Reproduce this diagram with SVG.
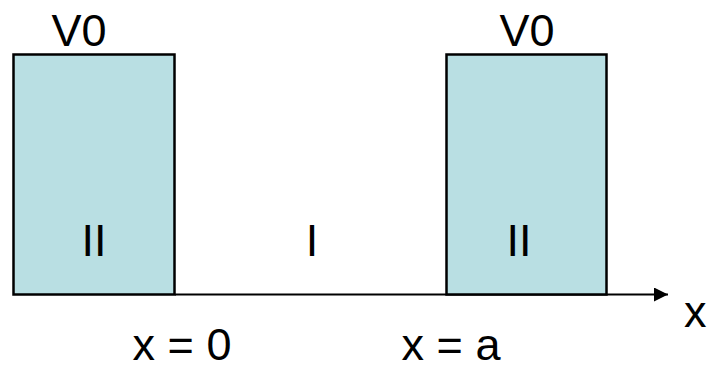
<svg xmlns="http://www.w3.org/2000/svg" width="709" height="370" viewBox="0 0 709 370">
<style>
text{font-family:"Liberation Sans",Arial,sans-serif;font-size:45px;fill:#000}
.bar{fill:#b9dfe3;stroke:#000;stroke-width:2.5}
</style>
<defs>
<marker id="ah" markerWidth="14" markerHeight="14" refX="14" refY="7" orient="auto" markerUnits="userSpaceOnUse"><path d="M0,0 L14,7 L0,14 z" fill="#000"/></marker>
</defs>
<g id="connectors">
<line x1="175" y1="294.5" x2="668" y2="294.5" stroke="#000" stroke-width="2" marker-end="url(#ah)"/>
</g>
<g id="left-barrier">
<rect class="bar" x="13.5" y="54.5" width="161" height="240"/>
<text x="79" y="46" text-anchor="middle">V0</text>
<text x="94" y="256" text-anchor="middle">II</text>
</g>
<g id="right-barrier">
<rect class="bar" x="446.5" y="54.5" width="160" height="240"/>
<text x="527" y="46" text-anchor="middle">V0</text>
<text x="519" y="256" text-anchor="middle">II</text>
</g>
<g id="region-I">
<text x="312" y="256" text-anchor="middle">I</text>
</g>
<g id="labels">
<text x="684" y="327">x</text>
<text x="182" y="360" text-anchor="middle">x = 0</text>
<text x="451" y="360" text-anchor="middle">x = a</text>
</g>
</svg>
